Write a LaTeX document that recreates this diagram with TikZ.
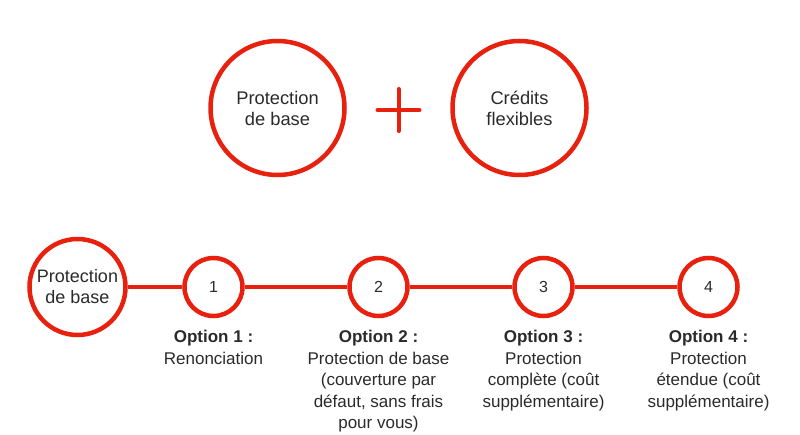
\documentclass[tikz,border=0pt]{standalone}
\usepackage{fontspec}
\setmainfont{Liberation Sans}
\definecolor{brandred}{HTML}{E8200E}
\definecolor{ink}{HTML}{2A2A2A}
\begin{document}
\begin{tikzpicture}[x=1pt,y=-1pt,
  ring/.style={circle, draw=brandred, line width=4.5pt, inner sep=0pt, text=ink, align=center},
  topring/.style={ring, minimum size=134pt, font=\fontsize{18.3}{21}\selectfont},
  startring/.style={ring, minimum size=96pt, font=\fontsize{18}{21}\selectfont},
  numring/.style={ring, minimum size=58pt, font=\fontsize{16}{18}\selectfont},
  optlabel/.style={anchor=north, inner sep=0pt, align=center, text=ink, font=\fontsize{17}{21.5}\selectfont},
  link/.style={draw=brandred, line width=4.3pt}]
\useasboundingbox (0,0) rectangle (800,435);

\node[topring] (pb) at (277.5,108) {Protection\\de base};
\node[topring] (cf) at (519.5,108) {Crédits\\flexibles};
\coordinate (plus) at (398.5,110);
\draw[brandred, line width=4pt, line cap=round] ([xshift=-21pt]plus) -- ([xshift=21pt]plus);
\draw[brandred, line width=4pt, line cap=round] ([yshift=-21pt]plus) -- ([yshift=21pt]plus);

\node[startring] (s0) at (77.5,287) {Protection\\de base};
\node[numring] (n1) at (213.5,287) {1};
\node[numring] (n2) at (378.5,287) {2};
\node[numring] (n3) at (543.5,287) {3};
\node[numring] (n4) at (708.5,287) {4};

\draw[link] (s0) -- (n1);
\draw[link] (n1) -- (n2);
\draw[link] (n2) -- (n3);
\draw[link] (n3) -- (n4);

\node[optlabel] (l1) at (213.5,330) {\textbf{Option 1 :}\\Renonciation};
\node[optlabel] (l2) at (378.5,330) {\textbf{Option 2 :}\\Protection de base\\(couverture par\\défaut, sans frais\\pour vous)};
\node[optlabel] (l3) at (543.5,330) {\textbf{Option 3 :}\\Protection\\complète (coût\\supplémentaire)};
\node[optlabel] (l4) at (708.5,330) {\textbf{Option 4 :}\\Protection\\étendue (coût\\supplémentaire)};
\end{tikzpicture}
\end{document}
